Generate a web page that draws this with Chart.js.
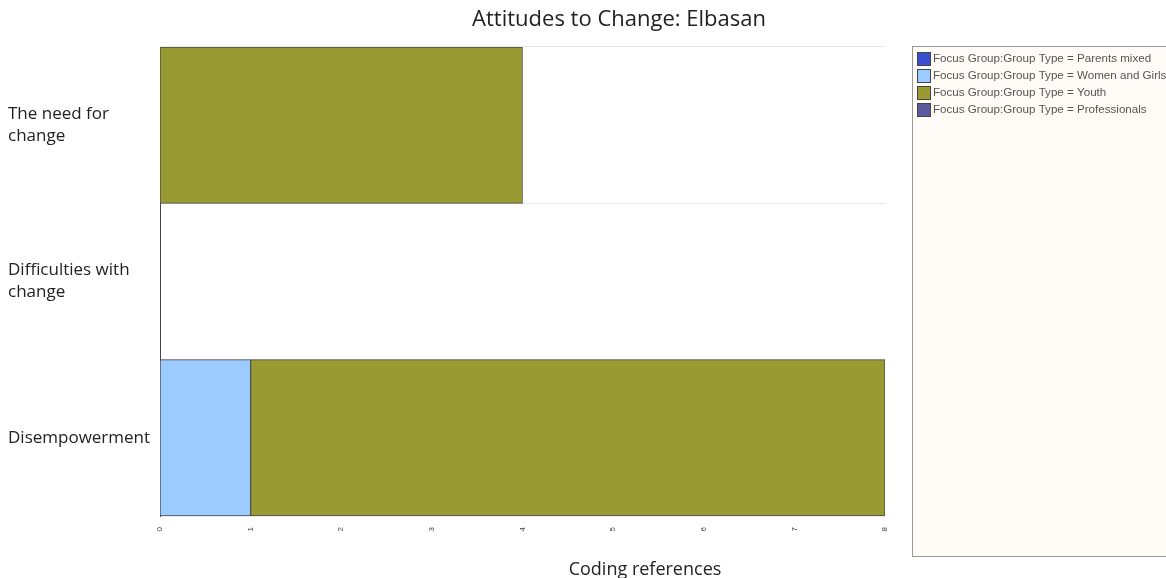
<!DOCTYPE html>
<html>
<head>
<meta charset="utf-8">
<script src="https://cdn.jsdelivr.net/npm/chart.js@4"></script>
<style>
html,body{margin:0;padding:0;background:#fff;}
#wrap{width:1166px;height:578px;position:relative;}
</style>
</head>
<body>
<div id="wrap"><canvas id="c" width="1166" height="578"></canvas></div>
<script>
const categories = [["The need for","change"],["Difficulties with","change"],"Disempowerment"];
const seriesNames = ["Focus Group:Group Type = Parents mixed","Focus Group:Group Type = Women and Girls","Focus Group:Group Type = Youth","Focus Group:Group Type = Professionals"];
const parentsMixed = [null,null,null];
const womenAndGirls = [null,null,1];
const youth = [4,null,7];
const professionals = [null,null,null];
const xTicks = [0,1,2,3,4,5,6,7,8];
const titleText = "Attitudes to Change: Elbasan";
const xAxisTitle = "Coding references";

const colors = ["#3a4fd0","#9ccbff","#9a9a33","#5a5a9c"];

const overlay = {
  id:'overlay',
  afterDraw(chart){
    const ctx = chart.ctx;
    ctx.save();
    ctx.fillStyle = '#222';
    ctx.textAlign = 'center';
    ctx.textBaseline = 'middle';
    ctx.font = '22px "Open Sans"';
    ctx.fillText(titleText, 619, 20);
    ctx.font = '18px "Open Sans"';
    ctx.fillText(xAxisTitle, 645, 570);
    // legend box
    const lx = 912.5, ly = 46.5, lw = 300, lh = 510;
    ctx.fillStyle = '#fffcf7';
    ctx.fillRect(lx, ly, lw, lh);
    ctx.strokeStyle = '#9a9a9a';
    ctx.lineWidth = 1;
    ctx.strokeRect(lx, ly, lw, lh);
    ctx.font = '11.6px "Liberation Sans"';
    ctx.textAlign = 'left';
    chart.data.datasets.forEach((ds, i) => {
      const cy = 59 + i * 17;
      ctx.fillStyle = ds.backgroundColor;
      ctx.fillRect(917, cy - 7, 14, 14);
      ctx.strokeStyle = '#444';
      ctx.strokeRect(917.5, cy - 6.5, 13, 13);
      ctx.fillStyle = '#555';
      ctx.fillText(ds.label, 933, cy);
    });
    ctx.restore();
  }
};

new Chart(document.getElementById('c'), {
  type: 'bar',
  data: {
    labels: categories,
    datasets: [
      {label: seriesNames[0], data: parentsMixed, backgroundColor: colors[0]},
      {label: seriesNames[1], data: womenAndGirls, backgroundColor: colors[1]},
      {label: seriesNames[2], data: youth, backgroundColor: colors[2]},
      {label: seriesNames[3], data: professionals, backgroundColor: colors[3]}
    ].map(d => Object.assign(d, {borderColor:'#4a4a4a', borderWidth:1, borderSkipped:false, barPercentage:1, categoryPercentage:1}))
  },
  options: {
    indexAxis: 'y',
    responsive: false,
    animation: false,
    layout: {padding: {left: 8, right: 281, top: 47, bottom: 0}},
    plugins: {legend: {display: false}, title: {display: false}, tooltip: {enabled: false}},
    scales: {
      x: {
        stacked: true, min: 0, max: 8,
        afterBuildTicks(axis){ axis.ticks = xTicks.map(v => ({value: v})); },
        afterFit(axis){ axis.height = 62; },
        grid: {display: false},
        border: {display: false},
        ticks: {font: {size: 8, family: 'Liberation Sans'}, color: '#444', minRotation: 90, maxRotation: 90, padding: 3}
      },
      y: {
        stacked: true,
        afterFit(axis){ axis.width = 152; },
        grid: {color: '#e8e8e8', drawTicks: false, offset: true},
        border: {display: true, color: '#444', width: 1},
        ticks: {font: {size: 17, family: 'Open Sans', lineHeight: 1.3}, color: '#222', crossAlign: 'far', padding: 4}
      }
    }
  },
  plugins: [overlay]
});
</script>
</body>
</html>
